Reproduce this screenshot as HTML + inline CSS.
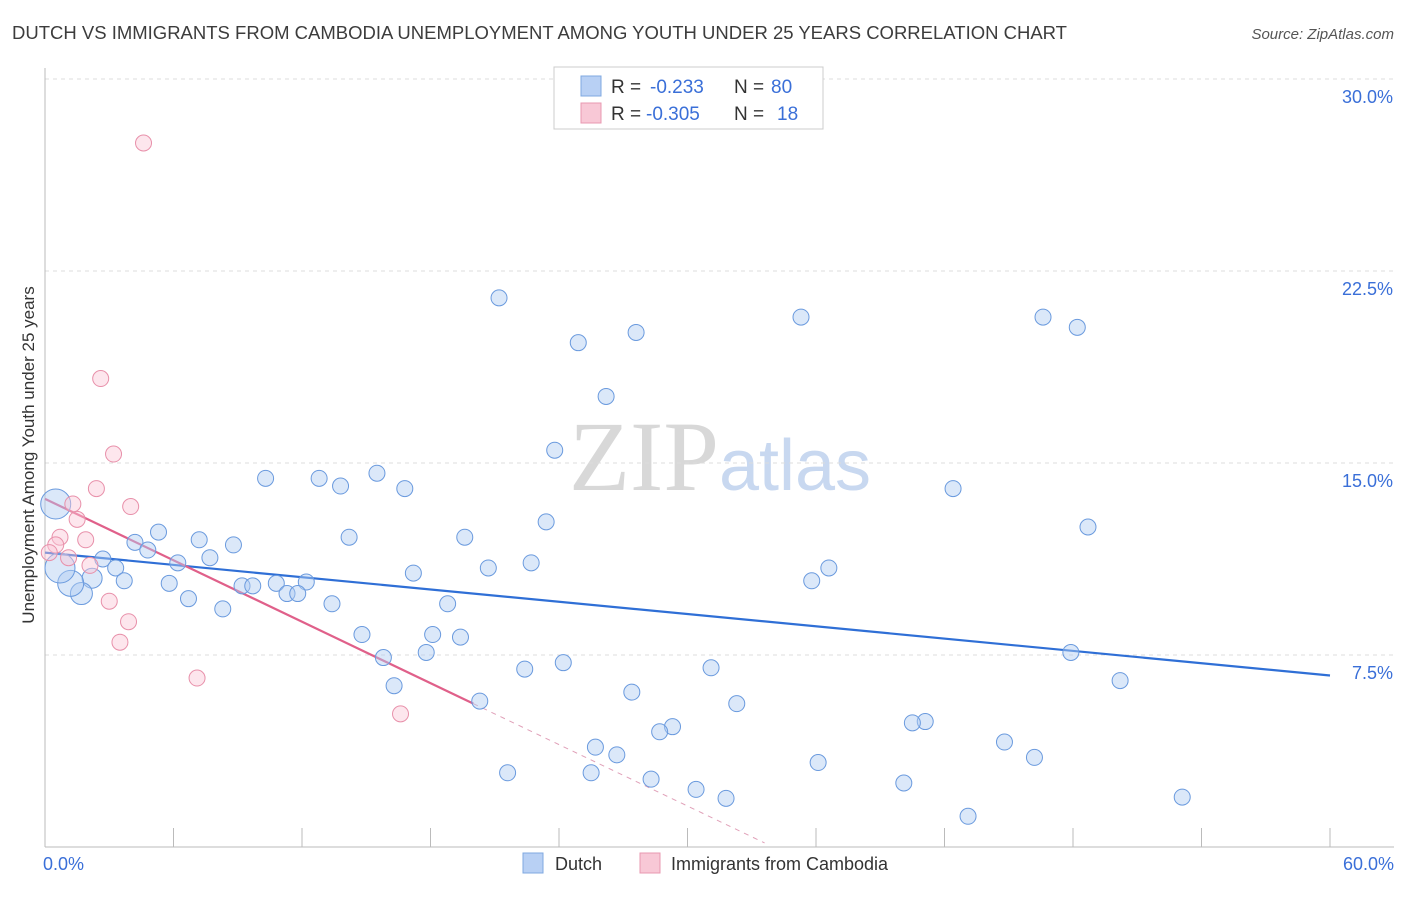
<!DOCTYPE html>
<html><head><meta charset="utf-8"><style>
body{margin:0;background:#fff;font-family:"Liberation Sans",sans-serif;}
svg text{font-family:"Liberation Sans",sans-serif;}
</style></head><body>
<svg id="chart" width="1406" height="892" xmlns="http://www.w3.org/2000/svg">
<text x="12" y="39" font-size="18.5" fill="#3c3c3c">DUTCH VS IMMIGRANTS FROM CAMBODIA UNEMPLOYMENT AMONG YOUTH UNDER 25 YEARS CORRELATION CHART</text>
<text x="1394" y="39" font-size="15" fill="#555" text-anchor="end" font-style="italic">Source: ZipAtlas.com</text>
<text x="720" y="490" font-size="100" text-anchor="middle"><tspan fill="#d8d8d8" font-family="Liberation Serif">ZIP</tspan><tspan fill="#c8d8f0" font-size="72">atlas</tspan></text>
<g id="grid"></g>
<g id="axes"></g>
<g id="trends"></g>
<g id="points"></g>
<text transform="translate(34,455) rotate(-90)" font-size="17" fill="#333" text-anchor="middle">Unemployment Among Youth under 25 years</text>
<g>
<rect x="554" y="67" width="269" height="62" fill="#fff" stroke="#ccc"/>
<rect x="581" y="76" width="20" height="20" fill="#b8d0f4" stroke="#7fa8e0"/>
<rect x="581" y="103" width="20" height="20" fill="#f8c8d6" stroke="#e898b0"/>
<text x="611" y="93" font-size="19" fill="#333">R =</text>
<text x="650" y="93" font-size="19" fill="#3a6fd8">-0.233</text>
<text x="734" y="93" font-size="19" fill="#333">N =</text>
<text x="771" y="93" font-size="19" fill="#3a6fd8">80</text>
<text x="611" y="120" font-size="19" fill="#333">R =</text>
<text x="646" y="120" font-size="19" fill="#3a6fd8">-0.305</text>
<text x="734" y="120" font-size="19" fill="#333">N =</text>
<text x="777" y="120" font-size="19" fill="#3a6fd8">18</text>
</g>
<g>
<rect x="523" y="853" width="20" height="20" fill="#b8d0f4" stroke="#7fa8e0"/>
<text x="555" y="870" font-size="18" fill="#333">Dutch</text>
<rect x="640" y="853" width="20" height="20" fill="#f8c8d6" stroke="#e898b0"/>
<text x="671" y="870" font-size="18" fill="#333">Immigrants from Cambodia</text>
</g>
</svg>
<script>
const yTicks=[7.5,15,22.5,30];
const yTickLabels=["7.5%","15.0%","22.5%","30.0%"];
const xTickLabels=["0.0%","60.0%"];
const dutchX=[21.2,24.9,27.6,26.2,23.8,35.3,46.6,48.2,10.3,12.8,13.8,15.5,16.8,42.4,23.4,48.7,5.3,14.2,19.6,7.2,8.8,4.2,4.8,2.7,6.2,7.7,3.3,20.7,22.7,36.6,17.2,2.2,3.7,5.8,9.2,9.7,10.8,12.2,11.3,11.8,35.8,6.7,8.3,13.4,18.8,1.7,1.2,18.1,19.4,14.8,15.8,17.8,47.9,24.2,22.4,31.1,16.3,50.2,27.4,32.3,20.3,41.1,40.5,29.3,28.7,44.8,25.7,26.7,46.2,36.1,21.6,25.5,28.3,30.4,31.8,40.1,53.1,43.1,0.5,0.7];
const dutchY=[21.45,19.7,20.1,17.6,15.5,20.7,20.7,20.3,14.4,14.4,14.1,14.6,14.0,14.0,12.7,12.5,12.3,12.1,12.1,12.0,11.8,11.9,11.6,11.25,11.1,11.3,10.9,10.9,11.1,10.9,10.7,10.5,10.4,10.3,10.2,10.2,10.3,10.35,9.9,9.9,10.4,9.7,9.3,9.5,9.5,9.9,10.3,8.3,8.2,8.3,7.4,7.6,7.6,7.2,6.95,7.0,6.3,6.5,6.05,5.6,5.7,4.9,4.85,4.7,4.5,4.1,3.9,3.6,3.5,3.3,2.9,2.9,2.65,2.25,1.9,2.5,1.95,1.2,13.4,10.9];
const dutchR=[8,8,8,8,8,8,8,8,8,8,8,8,8,8,8,8,8,8,8,8,8,8,8,8,8,8,8,8,8,8,8,10,8,8,8,8,8,8,8,8,8,8,8,8,8,11,13,8,8,8,8,8,8,8,8,8,8,8,8,8,8,8,8,8,8,8,8,8,8,8,8,8,8,8,8,8,8,8,15,15];
const cambX=[4.6,2.6,3.2,2.4,4.0,1.3,1.5,0.7,0.5,0.2,1.1,2.1,3.0,3.9,3.5,7.1,16.6,1.9];
const cambY=[27.5,18.3,15.35,14.0,13.3,13.4,12.8,12.1,11.8,11.5,11.3,11.0,9.6,8.8,8.0,6.6,5.2,12.0];
const dutchTrend=[[0,11.5],[60,6.7]];
const cambTrend=[[0,13.6],[20,5.6]];
const cambTrendExt=[[20,5.6],[33.6,0.16]];
const NS="http://www.w3.org/2000/svg";
const X0=45,X1=1330,Y0=847,PXY=25.6;
const sx=v=>X0+v/60*(X1-X0), sy=v=>Y0-v*PXY;
function mk(tag,parent,attrs){const e=document.createElementNS(NS,tag);for(const k in attrs)e.setAttribute(k,attrs[k]);parent.appendChild(e);return e;}
const grid=document.getElementById('grid'),axes=document.getElementById('axes'),tr=document.getElementById('trends'),pts=document.getElementById('points');
yTicks.forEach((t,i)=>{
 const l=mk('line',grid,{x1:X0,x2:1394,y1:sy(t),y2:sy(t),stroke:'#ddd','stroke-dasharray':'4,4'});
 
 
 const tx=mk('text',axes,{x:1393,y:sy(t)+24,'font-size':18,fill:'#3a6fd8','text-anchor':'end'});
 tx.textContent=yTickLabels[i];
 
 
});
const ax=mk('line',axes,{x1:X0,x2:1394,y1:Y0,y2:Y0,stroke:'#bbb'});


const ay=mk('line',axes,{x1:X0,x2:X0,y1:68,y2:Y0,stroke:'#bbb'});


for(let i=0;i<=10;i++){
 const t=mk('line',axes,{x1:sx(i*6),x2:sx(i*6),y1:828,y2:Y0,stroke:'#bbb'});
 
 
}
[[0,'start',X0-2],[60,'end',1394]].forEach((d,i)=>{
 const tx=mk('text',axes,{x:d[2],y:870,'font-size':18,fill:'#3a6fd8','text-anchor':d[1]});
 tx.textContent=xTickLabels[i];
 
 
});
dutchX.forEach((x,i)=>{
 const c=mk('circle',pts,{cx:sx(x),cy:sy(dutchY[i]),r:dutchR[i],fill:'rgba(175,205,242,0.45)',stroke:'#6a9ade','stroke-width':1});
 
 
});
cambX.forEach((x,i)=>{
 const c=mk('circle',pts,{cx:sx(x),cy:sy(cambY[i]),r:8,fill:'rgba(250,200,215,0.45)',stroke:'#e890aa','stroke-width':1});
 
 
});
const l1=mk('line',tr,{x1:sx(dutchTrend[0][0]),y1:sy(dutchTrend[0][1]),x2:sx(dutchTrend[1][0]),y2:sy(dutchTrend[1][1]),stroke:'#2f6fd6','stroke-width':2.2});


const l2=mk('line',tr,{x1:sx(cambTrend[0][0]),y1:sy(cambTrend[0][1]),x2:sx(cambTrend[1][0]),y2:sy(cambTrend[1][1]),stroke:'#e0608a','stroke-width':2.2});


const l3=mk('line',tr,{x1:sx(cambTrendExt[0][0]),y1:sy(cambTrendExt[0][1]),x2:sx(cambTrendExt[1][0]),y2:sy(cambTrendExt[1][1]),stroke:'#e0a0b8','stroke-width':1,'stroke-dasharray':'5,5'});


</script>
</body></html>
